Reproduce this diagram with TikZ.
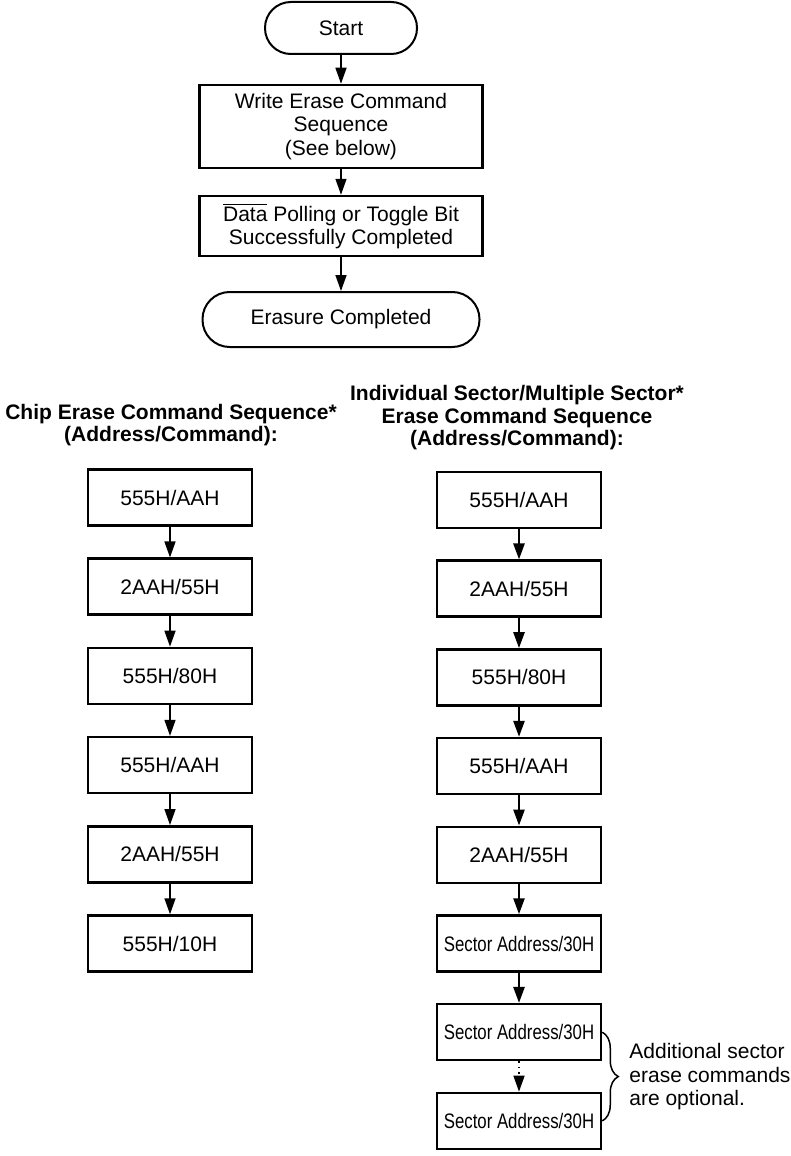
\documentclass[tikz,border=0pt]{standalone}
\usepackage{fontspec}
\setmainfont{Liberation Sans}
\newfontfamily\narrowfont{Liberation Sans}[FakeStretch=0.8]
\usetikzlibrary{arrows.meta,calc,decorations.pathreplacing}

\begin{document}
\begin{tikzpicture}[x=.5pt,y=-.5pt,
  every node/.style={font=\fontsize{10.5pt}{11.75pt}\selectfont,inner sep=2pt,align=center},
  term/.style={draw,line width=1pt,minimum height=26pt,rounded corners=12.9pt},
  stepbox/.style={draw,line width=1.25pt,minimum width=141.5pt},
  cmd/.style={draw,line width=1.25pt,minimum width=82pt,minimum height=28pt},
  sect/.style={cmd,font=\narrowfont\fontsize{10.5pt}{11.75pt}\selectfont},
  flow/.style={-{Triangle[length=8pt,width=5.5pt]},line width=.75pt},
  heavy/.style={flow,line width=1.25pt},
  head/.style={font=\bfseries\fontsize{10.5pt}{11.25pt}\selectfont},
  note/.style={align=left,anchor=west}]

\useasboundingbox (0,0) rectangle (791,1156);

% -------------------------------------------------------------------------
% Overall erase flow.
% -------------------------------------------------------------------------
\node[term,minimum width=76pt] (start) at (341,28) {Start};
\node[stepbox,minimum height=41.5pt] (write) at (341,126.5)
  {Write Erase Command\\Sequence\\(See below)};
\node[stepbox,minimum height=30pt] (poll) at (341,226)
  {$\overline{\mbox{Data}}$ Polling or Toggle Bit\\Successfully Completed};
\node[term,minimum width=138.5pt,minimum height=27.5pt,rounded corners=13.6pt]
  (done) at (341,319.5) {Erasure Completed};
\draw[flow] (start) -- (write);
\draw[flow] (write) -- (poll);
\draw[flow] (poll) -- (done);

% -------------------------------------------------------------------------
% Chip erase: six bus cycles.
% -------------------------------------------------------------------------
\node[head] (chiphead) at (171,425)
  {Chip Erase Command Sequence*\\(Address/Command):};
\node[cmd] (c1) at (170,497.5) {555H/AAH};
\node[cmd] (c2) at (170,586.7) {2AAH/55H};
\node[cmd] (c3) at (170,675.9) {555H/80H};
\node[cmd] (c4) at (170,765.1) {555H/AAH};
\node[cmd] (c5) at (170,854.3) {2AAH/55H};
\node[cmd] (c6) at (170,943.5) {555H/10H};
\draw[flow] (c1) -- (c2);
\draw[flow] (c2) -- (c3);
\draw[flow] (c3) -- (c4);
\draw[flow] (c4) -- (c5);
\draw[flow] (c5) -- (c6);

% -------------------------------------------------------------------------
% Sector erase: five cycles, then one or more sector addresses.
% -------------------------------------------------------------------------
\node[head] (secthead) at (517,418)
  {Individual Sector/Multiple Sector*\\Erase Command Sequence\\(Address/Command):};
\node[cmd]  (r1) at (519,500)    {555H/AAH};
\node[cmd]  (r2) at (519,588.7)  {2AAH/55H};
\node[cmd]  (r3) at (519,677.4)  {555H/80H};
\node[cmd]  (r4) at (519,766.1)  {555H/AAH};
\node[cmd]  (r5) at (519,854.8)  {2AAH/55H};
\node[sect] (s1) at (519,943.5)  {Sector Address/30H};
\node[sect] (s2) at (519,1032.2) {Sector Address/30H};
\node[sect] (s3) at (519,1120.9) {Sector Address/30H};
\draw[heavy] (r1) -- (r2);
\draw[heavy] (r2) -- (r3);
\draw[heavy] (r3) -- (r4);
\draw[heavy] (r4) -- (r5);
\draw[heavy] (r5) -- (s1);
\draw[heavy] (s1) -- (s2);
\draw[flow,dotted] (s2) -- (s3);

% optional extra sectors
\draw[line width=.75pt,decorate,decoration={brace,amplitude=8pt}]
  (s2.east) -- (s3.east);
\node[note] (extra) at (625,1077)
  {Additional sector\\erase commands\\are optional.};
\end{tikzpicture}
\end{document}
